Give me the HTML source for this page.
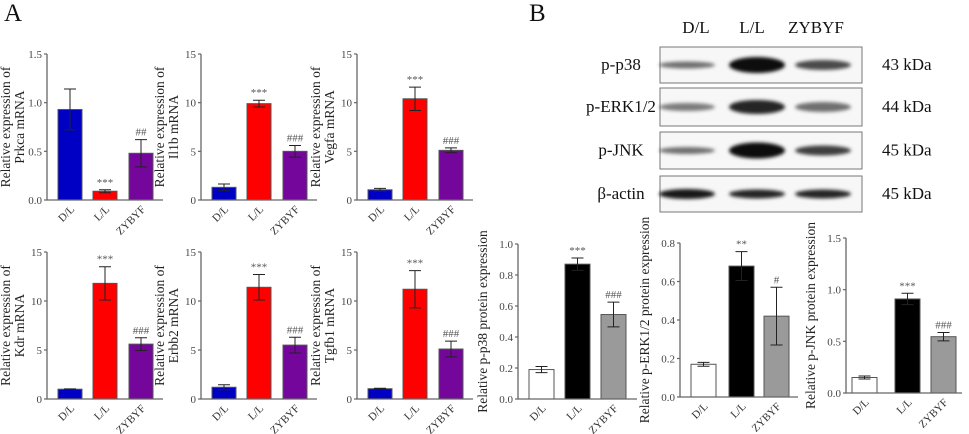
<!DOCTYPE html>
<html><head><meta charset="utf-8">
<style>
html,body{margin:0;padding:0;background:#fff;}
svg{display:block;font-family:"Liberation Serif",serif;}
</style></head>
<body>
<svg id="fig" width="969" height="434" viewBox="0 0 969 434" xmlns="http://www.w3.org/2000/svg">
<defs><filter id="blur" x="-20%" y="-100%" width="140%" height="300%"><feGaussianBlur stdDeviation="1.8"/></filter></defs>
<text x="4" y="21" font-size="25" fill="#111">A</text>
<text x="529" y="21" font-size="25" fill="#111">B</text>
<g id="charts"></g>
<g id="blot"></g>
</svg>
<script>
const categories = ["D/L","L/L","ZYBYF"];
const prkcaValues = [0.93,0.09,0.48];
const prkcaErr = [0.21,0.015,0.14];
const prkcaSig = ["","***","##"];
const il1bValues = [1.3,9.9,5.0];
const il1bErr = [0.35,0.35,0.6];
const il1bSig = ["","***","###"];
const vegfaValues = [1.05,10.4,5.1];
const vegfaErr = [0.15,1.2,0.25];
const vegfaSig = ["","***","###"];
const kdrValues = [1.0,11.8,5.6];
const kdrErr = [0.03,1.7,0.65];
const kdrSig = ["","***","###"];
const erbb2Values = [1.2,11.4,5.5];
const erbb2Err = [0.25,1.3,0.8];
const erbb2Sig = ["","***","###"];
const tgfb1Values = [1.05,11.2,5.1];
const tgfb1Err = [0.05,1.9,0.8];
const tgfb1Sig = ["","***","###"];
const p38Values = [0.19,0.87,0.545];
const p38Err = [0.02,0.04,0.08];
const p38Sig = ["","***","###"];
const erkValues = [0.17,0.68,0.42];
const erkErr = [0.01,0.075,0.15];
const erkSig = ["","**","#"];
const jnkValues = [0.15,0.91,0.545];
const jnkErr = [0.015,0.055,0.04];
const jnkSig = ["","***","###"];
const ticks15 = [0,5,10,15];
const ticks15Labels = ["0","5","10","15"];
const ticks1p5 = [0,0.5,1.0,1.5];
const ticks1p5Labels = ["0.0","0.5","1.0","1.5"];
const ticks1 = [0,0.2,0.4,0.6,0.8,1.0];
const ticks1Labels = ["0.0","0.2","0.4","0.6","0.8","1.0"];
const ticks08 = [0,0.2,0.4,0.6,0.8];
const ticks08Labels = ["0.0","0.2","0.4","0.6","0.8"];
const colorsA = ["#0000c4","#ff0000","#74069c"];
const colorsB = ["#ffffff","#000000","#9a9a9a"];

const NS="http://www.w3.org/2000/svg";
const root=document.getElementById('charts');
function mk(tag,attrs,parent){const e=document.createElementNS(NS,tag);for(const k in attrs)e.setAttribute(k,attrs[k]);parent.appendChild(e);return e;}

function chart(cfg){
  const g=mk('g',{},root);
  
  
  const ymax=cfg.ticks[cfg.ticks.length-1];
  const yS=v=>cfg.bottom-(v/ymax)*(cfg.bottom-cfg.top);
  const ax="#666";
  cfg.values.forEach((v,i)=>{
    const x0=cfg.barX[i];
    const r=mk('rect',{x:x0,y:yS(v),width:cfg.bw,height:cfg.bottom-yS(v),fill:cfg.colors[i],stroke:"#555","stroke-width":1},g);
    
    
    const cx=x0+cfg.bw/2, e=cfg.err[i];
    const eb=mk('path',{d:`M${cx},${yS(v-e)}V${yS(v+e)}M${cx-6},${yS(v+e)}H${cx+6}M${cx-6},${yS(v-e)}H${cx+6}`,stroke:"#222","stroke-width":1,fill:"none"},g);
    
    
    if(cfg.sig[i]){
      const t=mk('text',{x:cx,y:yS(v+e)-4,"font-size":11,"text-anchor":"middle",fill:"#555"},g);
      t.textContent=cfg.sig[i];
      
      
    }
    const xl=mk('text',{transform:`translate(${cx+5},${cfg.bottom+10}) rotate(-45)`,"font-size":11,"text-anchor":"end",fill:"#333"},g);
    xl.textContent=categories[i];
    
    
  });
  const a=mk('path',{d:`M${cfg.ax},${cfg.top}V${cfg.bottom}H${cfg.xend}`,stroke:ax,"stroke-width":1.3,fill:"none"},g);
  
  
  cfg.ticks.forEach((t,i)=>{
    mk('line',{x1:cfg.ax-3,x2:cfg.ax,y1:yS(t),y2:yS(t),stroke:ax,"stroke-width":1.2},g);
    const tl=mk('text',{x:cfg.ax-5,y:yS(t)+4,"font-size":11,"text-anchor":"end",fill:"#444"},g);
    tl.textContent=cfg.tickLabels[i];
    
    
  });
  const mid=(cfg.top+cfg.bottom)/2;
  cfg.title.forEach((line,k)=>{
    const x=cfg.ax-cfg.titleOff+k*14;
    const tt=mk('text',{transform:`translate(${x},${mid}) rotate(-90)`,"font-size":13.5,"text-anchor":"middle",fill:"#222"},g);
    tt.textContent=line;
    
    
  });
}
function barsA(ax){return [ax+11,ax+46,ax+82];}
const rowsA=[
 {short:"prkca",ax:47,top:54,bottom:200,values:prkcaValues,err:prkcaErr,sig:prkcaSig,ticks:ticks1p5,tickLabels:ticks1p5Labels,title:["Relative expression of","Prkca mRNA"]},
 {short:"il1b",ax:201,top:54,bottom:200,values:il1bValues,err:il1bErr,sig:il1bSig,ticks:ticks15,tickLabels:ticks15Labels,title:["Relative expression of","Il1b mRNA"]},
 {short:"vegfa",ax:357,top:54,bottom:200,values:vegfaValues,err:vegfaErr,sig:vegfaSig,ticks:ticks15,tickLabels:ticks15Labels,title:["Relative expression of","Vegfa mRNA"]},
 {short:"kdr",ax:47,top:252,bottom:399,values:kdrValues,err:kdrErr,sig:kdrSig,ticks:ticks15,tickLabels:ticks15Labels,title:["Relative expression of","Kdr mRNA"]},
 {short:"erbb2",ax:201,top:252,bottom:399,values:erbb2Values,err:erbb2Err,sig:erbb2Sig,ticks:ticks15,tickLabels:ticks15Labels,title:["Relative expression of","Erbb2 mRNA"]},
 {short:"tgfb1",ax:357,top:252,bottom:399,values:tgfb1Values,err:tgfb1Err,sig:tgfb1Sig,ticks:ticks15,tickLabels:ticks15Labels,title:["Relative expression of","Tgfb1 mRNA"]}
];
rowsA.forEach(c=>chart(Object.assign({name:c.short+'-chart',barX:barsA(c.ax),bw:24,xend:c.ax+116,colors:colorsA,titleOff:37},c)));
const rowsB=[
 {short:"p38",ax:518,top:244,bottom:399,barX:[529,565,601],xend:637,values:p38Values,err:p38Err,sig:p38Sig,ticks:ticks1,tickLabels:ticks1Labels,title:["Relative p-p38 protein expression"]},
 {short:"erk",ax:680,top:243,bottom:397,barX:[691,729,764],xend:798,values:erkValues,err:erkErr,sig:erkSig,ticks:ticks08,tickLabels:ticks08Labels,title:["Relative p-ERK1/2 protein expression"]},
 {short:"jnk",ax:846,top:238,bottom:393,barX:[852,895,931],xend:962,values:jnkValues,err:jnkErr,sig:jnkSig,ticks:ticks1p5,tickLabels:ticks1p5Labels,title:["Relative p-JNK protein expression"]}
];
rowsB.forEach(c=>chart(Object.assign({name:c.short+'-chart',bw:25,colors:colorsB,titleOff:31},c)));

const blot=document.getElementById('blot');
const laneX=[687,757,823];
const laneLabelX=[696,752,816];
const rowNames=["p-p38","p-ERK1/2","p-JNK","β-actin"];
const kda=["43 kDa","44 kDa","45 kDa","45 kDa"];
const rowY=[[47,83],[88,126],[132,169],[176,212]];
const bandI=[[0.55,0.95,0.7],[0.5,0.85,0.55],[0.55,0.95,0.75],[0.9,0.85,0.85]];
const bandH=[[3.5,8,5],[4,7,5],[3.5,8,5],[5,4.5,4.5]];
categories.forEach((c,i)=>{
  const t=mk('text',{x:laneLabelX[i],y:33,"font-size":17,"text-anchor":"middle",fill:"#111"},blot);
  t.textContent=c;
  
  
});
rowNames.forEach((n,r)=>{
  const [y0,y1]=rowY[r];
  const box=mk('rect',{x:660,y:y0,width:202,height:y1-y0,fill:"#f7f7f7",stroke:"#777","stroke-width":1},blot);
  
  
  const cy=(y0+y1)/2;
  laneX.forEach((x,i)=>{
    const b=mk('ellipse',{cx:x,cy:cy,rx:28,ry:bandH[r][i],fill:"#000","fill-opacity":bandI[r][i],filter:"url(#blur)"},blot);
    
    
  });
  const l=mk('text',{x:621,y:cy+5,"font-size":17,"text-anchor":"middle",fill:"#111"},blot);
  l.textContent=n;
  
  
  const k=mk('text',{x:882,y:cy+5,"font-size":17,fill:"#111"},blot);
  k.textContent=kda[r];
  
  
});
</script>
</body></html>
